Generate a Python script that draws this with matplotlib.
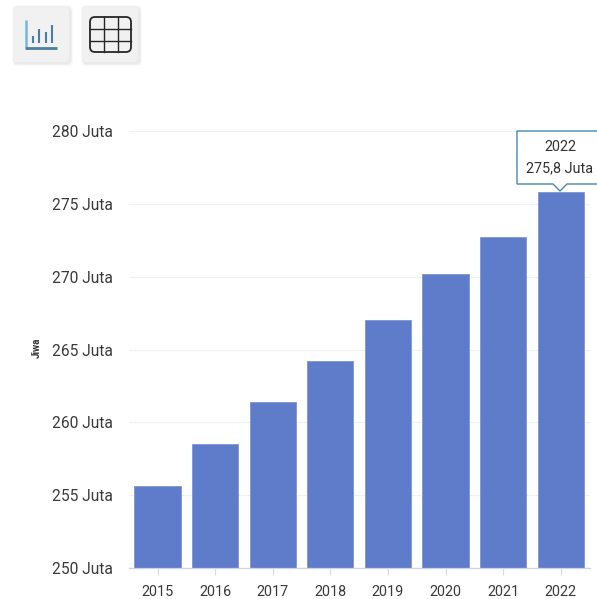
import matplotlib
matplotlib.use("Agg")
import matplotlib.pyplot as plt
from matplotlib.patches import FancyBboxPatch, Polygon
from matplotlib.lines import Line2D

plt.rcParams['font.family'] = ['Roboto', 'DejaVu Sans']

years = ['2015', '2016', '2017', '2018', '2019', '2020', '2021', '2022']
population = [255.6, 258.5, 261.4, 264.2, 267.0, 270.2, 272.7, 275.8]
y_ticks = [250, 255, 260, 265, 270, 275, 280]
y_tick_labels = ['250 Juta', '255 Juta', '260 Juta', '265 Juta', '270 Juta', '275 Juta', '280 Juta']
y_title = 'Jiwa'
callout_lines = ['2022', '275,8 Juta']

W, H = 597, 599
fig = plt.figure(figsize=(W / 100, H / 100), dpi=100, facecolor='white')

# Plot area
left, right, top, bottom = 128.7, 589.5, 131, 568
ax = fig.add_axes([left / W, 1 - bottom / H, (right - left) / W, (bottom - top) / H])
ax.set_xlim(-0.5, 7.5)
ax.set_ylim(250, 280)
ax.bar(range(len(years)), population, width=0.8, color='#5f7cca', edgecolor='#7f95d4',
       linewidth=0.6, zorder=2)

ax.set_xticks(range(len(years)), years)
ax.set_yticks(y_ticks, y_tick_labels)
ax.tick_params(axis='x', length=5, width=0.8, color='#d8dce6', labelsize=10.4,
               labelcolor='#3a3a3a', pad=7.3)
ax.tick_params(axis='y', length=0, labelsize=11.2, labelcolor='#3a3a3a', pad=11.3)
ax.grid(axis='y', color='#f0f1f4', linewidth=0.9, zorder=0)
ax.set_axisbelow(True)
for side in ['top', 'right', 'left']:
    ax.spines[side].set_visible(False)
ax.spines['bottom'].set_color('#ccd3e6')
ax.spines['bottom'].set_linewidth(0.9)

# Overlay in pixel coordinates for the toolbar, the axis title and the callout
ov = fig.add_axes([0, 0, 1, 1], zorder=5)
ov.set_xlim(0, W)
ov.set_ylim(H, 0)
ov.axis('off')
ov.patch.set_alpha(0)

ov.text(37, 348, y_title, rotation=90, ha='center', va='center', fontsize=7,
        fontweight='bold', color='#333333')

# Toolbar buttons with soft shadows
for x0, x1 in [(13, 69), (82, 138)]:
    for grow, alpha in [(5, 0.05), (3, 0.07), (1.5, 0.10)]:
        ov.add_patch(FancyBboxPatch((x0 + 1.5 - grow / 2, 6 + 1.5 - grow / 2), x1 - x0 + grow, 56 + grow,
                                    boxstyle='round,pad=0,rounding_size=5', fc='#9a9a9a',
                                    ec='none', alpha=alpha))
    ov.add_patch(FancyBboxPatch((x0, 6), x1 - x0, 56, boxstyle='round,pad=0,rounding_size=4',
                                fc='#f1f1f1', ec='none'))

# Bar-chart glyph
ov.add_line(Line2D([26, 26], [20, 47], color='#74b6dc', lw=1.8, solid_capstyle='butt'))
ov.add_line(Line2D([25, 57], [47.5, 47.5], color='#4a7f9f', lw=2.0, solid_capstyle='butt'))
for gx, gy in [(33, 36), (39, 29), (46, 32), (52, 25)]:
    ov.add_line(Line2D([gx, gx], [gy, 43], color='#4a7f9f', lw=1.5, solid_capstyle='butt'))

# Table glyph
ov.add_patch(FancyBboxPatch((90, 17), 41, 35, boxstyle='round,pad=0,rounding_size=5',
                            fc='none', ec='#262626', lw=1.3))
for gx in [103.5, 117.5]:
    ov.add_line(Line2D([gx, gx], [17, 52], color='#262626', lw=1.0))
for gy in [28.5, 40.5]:
    ov.add_line(Line2D([90, 131], [gy, gy], color='#262626', lw=1.0))

# Callout above the last bar
edge = '#4a86b0'
box_l, box_r, box_t, box_b, tip_x, tip_y = 517, 600, 131, 184, 560, 191
ov.add_patch(Polygon([(box_l, box_t), (box_r, box_t), (box_r, box_b), (tip_x + 7, box_b),
                      (tip_x, tip_y), (tip_x - 7, box_b), (box_l, box_b)], closed=True,
                     fc='white', ec=edge, lw=1.0))
ov.text(560, 147, callout_lines[0], ha='center', va='center', fontsize=10.4, color='#333333')
ov.text(560, 168, callout_lines[1], ha='center', va='center', fontsize=10.4, color='#333333')

fig.savefig('out.png', dpi=100, facecolor='white')
